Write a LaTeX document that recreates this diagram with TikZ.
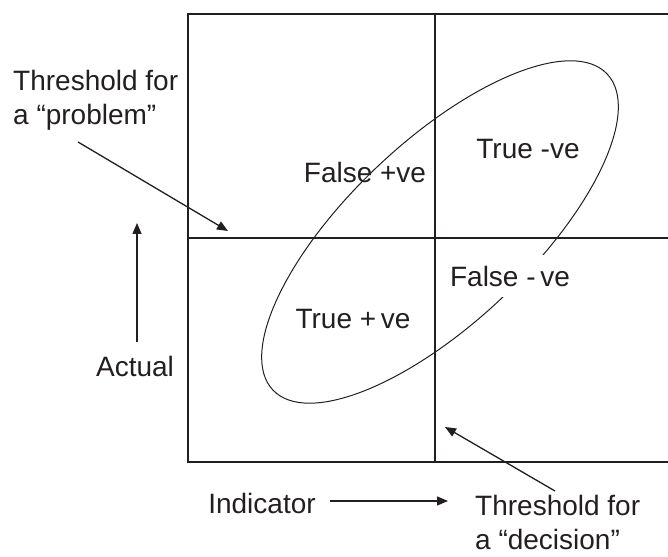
\documentclass[tikz,border=0pt]{standalone}
\usepackage{fontspec}
\setmainfont{Liberation Sans}
\usepackage{tikz}
\usetikzlibrary{arrows.meta,positioning}
\usepackage{xcolor}
\definecolor{inkgray}{HTML}{231F20}
\tikzset{
  lbl/.style={
    text=inkgray,
    inner sep=0pt,
    font=\fontsize{28}{34}\selectfont
  },
  multilbl/.style={
    lbl,
    align=left,
    anchor=north west
  },
  gridline/.style={
    draw=inkgray,
    line width=1.6pt
  },
  arrow/.style={
    -{Triangle[length=11pt,width=9pt]},
    line width=1.3pt,
    draw=inkgray
  }
}

\begin{document}
\begin{tikzpicture}[x=1pt,y=1pt]
\useasboundingbox (0,0) rectangle (668,556);
% quadrant grid
\draw[gridline] (668,542) -- (188,542) -- (188,94) -- (668,94);
\draw[gridline] (435,94) -- (435,542);
\draw[gridline] (188,318) -- (668,318);
% population
\draw[inkgray, line width=1pt, rotate around={43.4:(440,324)}]
  (440,324) ellipse [x radius=230, y radius=90.5];
% quadrant labels
\node[lbl] (fpos) at (365,384) {False +ve};
\node[lbl] (tneg) at (528,407) {True -ve};
\node[lbl, fill=white, inner xsep=4pt, inner ysep=11pt] (fneg) at (510,280) {False -\,ve};
\node[lbl] (tpos) at (353,237) {True +\,ve};
% axis labels
\node[lbl] (actual) at (135,190) {Actual};
\node[lbl] (indic) at (262,53) {Indicator};
\node[multilbl] (prob) at (13,486) {Threshold for\\a “problem”};
\node[multilbl] (decis) at (475,61) {Threshold for\\a “decision”};
% connectors
\coordinate (probtail) at (78,414);
\coordinate (probtip) at (228,325);
\coordinate (acttail) at (137,214);
\coordinate (acttip) at (137,333);
\coordinate (indtail) at (330,55);
\coordinate (indtip) at (448,55);
\coordinate (dectail) at (555,65);
\coordinate (dectip) at (445,129);
\draw[arrow] (probtail) -- (probtip);
\draw[arrow] (acttail) -- (acttip);
\draw[arrow] (indtail) -- (indtip);
\draw[arrow] (dectail) -- (dectip);
\end{tikzpicture}
\end{document}
